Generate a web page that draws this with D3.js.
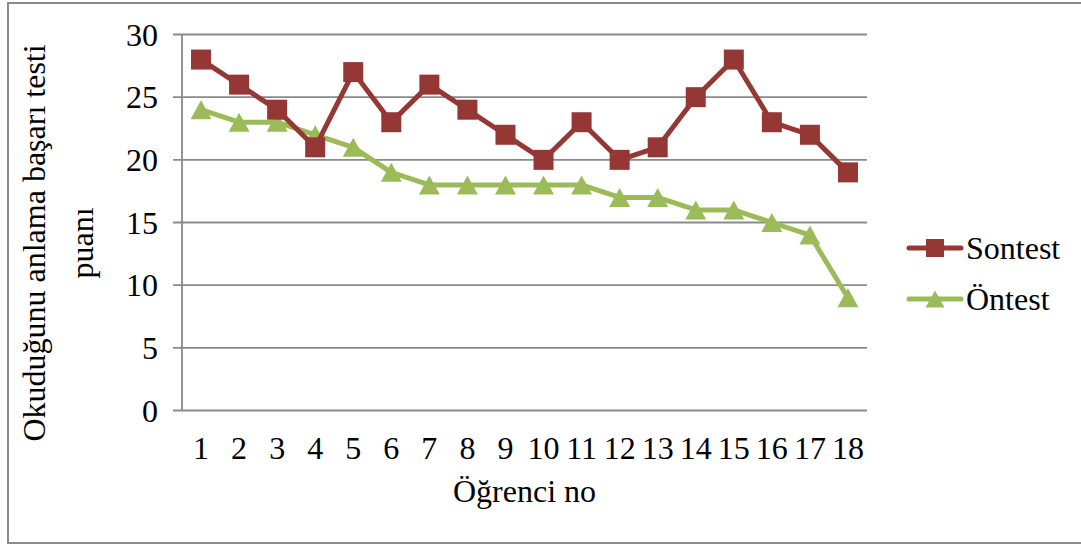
<!DOCTYPE html>
<html><head><meta charset="utf-8">
<script src="https://cdn.jsdelivr.net/npm/d3@7"></script>
<style>
html,body{margin:0;padding:0;background:#fff;}
svg{display:block;}
svg text{font-family:"Liberation Serif","Times New Roman",Tinos,"DejaVu Serif",serif;}
</style></head>
<body>
<svg id="chart" width="1081" height="545"></svg>
<script>
const categories = ["1","2","3","4","5","6","7","8","9","10","11","12","13","14","15","16","17","18"];
const sontest = [28,26,24,21,27,23,26,24,22,20,23,20,21,25,28,23,22,19];
const ontest  = [24,23,23,22,21,19,18,18,18,18,18,17,17,16,16,15,14,9];
const yTicks = [0,5,10,15,20,25,30];
const seriesNames = ["Sontest","Öntest"];
const xTitle = "Öğrenci no";
const yTitleLines = ["Okuduğunu anlama başarı testi","puanı"];

(function(){
const svg = d3.select("#chart");
const pLeft = 182, pRight = 867, pTop = 34.5, pBottom = 410.5;
const FS = 32;
const FF = '"Liberation Serif","Times New Roman",Tinos,"DejaVu Serif",serif';
const grid = "#8a8a8a";
const red = "#953735", green = "#9BBB59";

svg.append("rect").attr("x",8).attr("y",3).attr("width",1090).attr("height",540)
  .attr("fill","none").attr("stroke",grid).attr("stroke-width",2);

const x = d3.scaleBand().domain(categories).range([pLeft,pRight]);
const y = d3.scaleLinear().domain([0,30]).range([pBottom,pTop]);

svg.append("g").selectAll("line").data(yTicks).join("line")
  .attr("x1",173).attr("x2",pRight)
  .attr("y1",d=>y(d)).attr("y2",d=>y(d))
  .attr("stroke",grid).attr("stroke-width",1.8);
svg.append("line").attr("x1",pLeft).attr("x2",pLeft).attr("y1",pTop).attr("y2",pBottom)
  .attr("stroke",grid).attr("stroke-width",1.8);

svg.append("g").selectAll("text").data(yTicks).join("text")
  .attr("x",158).attr("y",d=>y(d)+11)
  .attr("text-anchor","end").attr("font-size",FS).attr("font-family",FF).attr("fill","#000")
  .text(d=>d);

svg.append("g").selectAll("text").data(categories).join("text")
  .attr("x",d=>x(d)+x.bandwidth()/2).attr("y",459)
  .attr("text-anchor","middle").attr("font-size",FS).attr("font-family",FF).attr("fill","#000")
  .text(d=>d);

svg.append("text").attr("x",(pLeft+pRight)/2).attr("y",502)
  .attr("text-anchor","middle").attr("font-size",FS).attr("font-family",FF).text(xTitle);

const yt = svg.append("text").attr("transform","translate(0,243) rotate(-90)")
  .attr("text-anchor","middle").attr("font-size",FS).attr("font-family",FF);
yt.append("tspan").attr("x",0).attr("y",45).text(yTitleLines[0]);
yt.append("tspan").attr("x",0).attr("y",93).text(yTitleLines[1]);

const cx = (d,i)=>x(categories[i])+x.bandwidth()/2;
const line = d3.line().x((d,i)=>cx(d,i)).y(d=>y(d));
const triPath = (w,h)=>`M0,${-h/2}L${w/2},${h/2}L${-w/2},${h/2}Z`;

svg.append("path").datum(ontest).attr("d",line).attr("fill","none")
  .attr("stroke",green).attr("stroke-width",5).attr("stroke-linejoin","round").attr("stroke-linecap","round");
svg.append("g").selectAll("path").data(ontest).join("path")
  .attr("d",triPath(21,19)).attr("fill",green)
  .attr("transform",(d,i)=>`translate(${cx(d,i)},${y(d)})`);

svg.append("path").datum(sontest).attr("d",line).attr("fill","none")
  .attr("stroke",red).attr("stroke-width",5).attr("stroke-linejoin","round").attr("stroke-linecap","round");
svg.append("g").selectAll("rect").data(sontest).join("rect")
  .attr("x",(d,i)=>cx(d,i)-10).attr("y",d=>y(d)-10)
  .attr("width",20).attr("height",20).attr("fill",red);

const leg = [{name:seriesNames[0],color:red,ly:248},{name:seriesNames[1],color:green,ly:299}];
leg.forEach((l,k)=>{
  svg.append("line").attr("x1",909).attr("x2",961).attr("y1",l.ly).attr("y2",l.ly)
    .attr("stroke",l.color).attr("stroke-width",5).attr("stroke-linecap","round");
  if(k===0){
    svg.append("rect").attr("x",926).attr("y",l.ly-9).attr("width",18).attr("height",18).attr("fill",l.color);
  } else {
    svg.append("path").attr("d",triPath(19,17))
      .attr("fill",l.color).attr("transform",`translate(935,${l.ly})`);
  }
  svg.append("text").attr("x",966).attr("y",l.ly+11).attr("font-size",FS).attr("font-family",FF).text(l.name);
});
})();
</script>
</body></html>
